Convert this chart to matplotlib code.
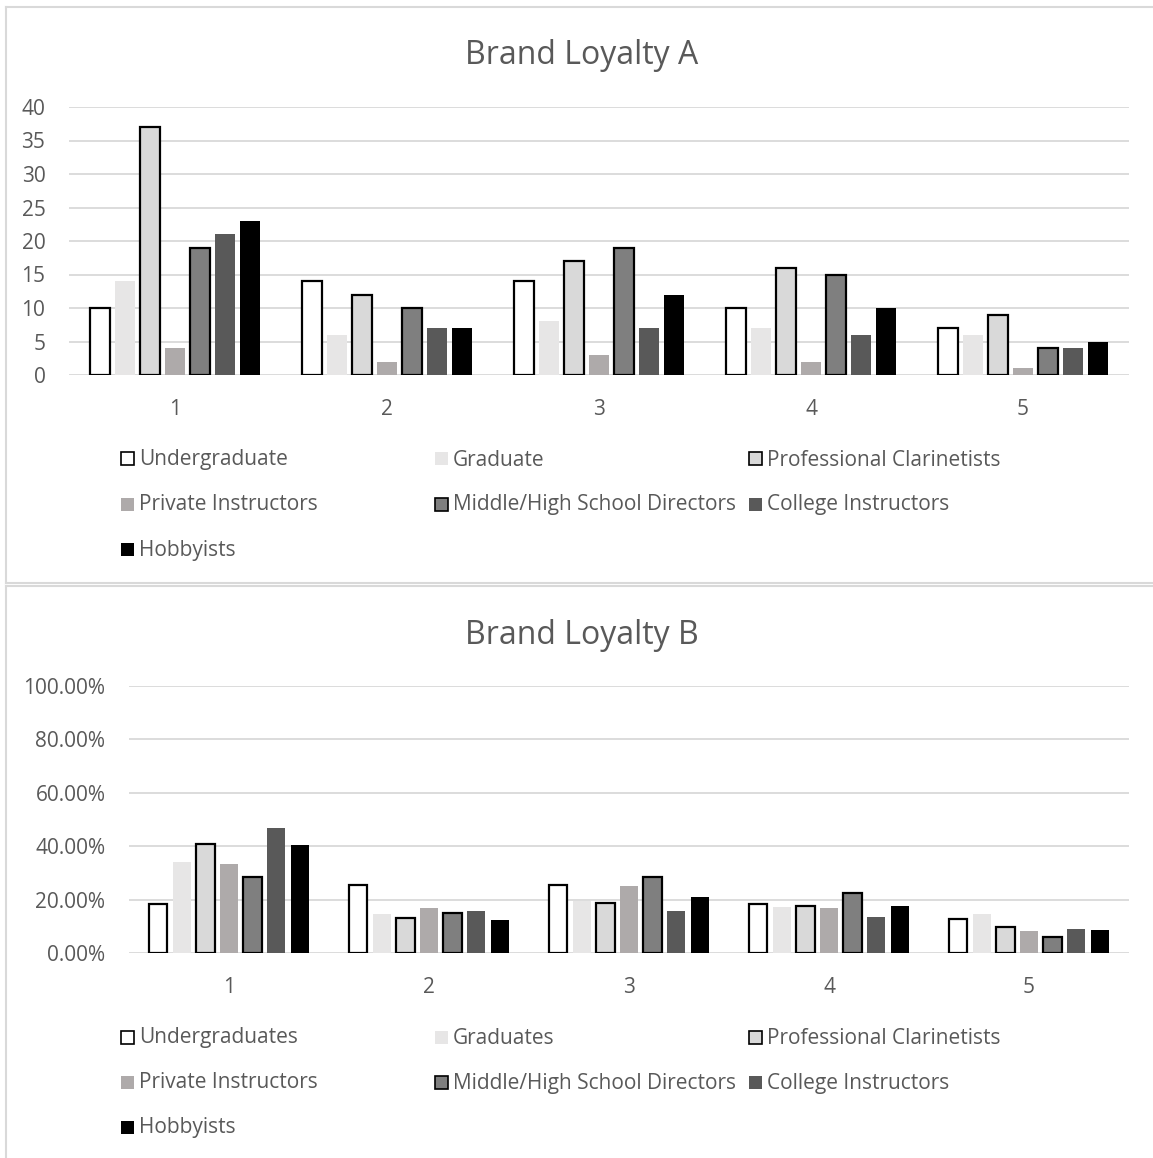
import numpy as np
import matplotlib.pyplot as plt
from matplotlib.patches import Rectangle
from matplotlib.lines import Line2D
from matplotlib.ticker import PercentFormatter, MultipleLocator

plt.rcParams['font.family'] = ['Open Sans', 'DejaVu Sans']

W, H = 1153, 1158
TXT = '#595959'
GRID = '#D9D9D9'

categories = ['1', '2', '3', '4', '5']

labels_a = ['Undergraduate', 'Graduate', 'Professional Clarinetists',
            'Private Instructors', 'Middle/High School Directors',
            'College Instructors', 'Hobbyists']
labels_b = ['Undergraduates', 'Graduates', 'Professional Clarinetists',
            'Private Instructors', 'Middle/High School Directors',
            'College Instructors', 'Hobbyists']

# counts per loyalty rating
undergrad_a = [10, 14, 14, 10, 7]
graduate_a = [14, 6, 8, 7, 6]
professional_a = [37, 12, 17, 16, 9]
private_a = [4, 2, 3, 2, 1]
directors_a = [19, 10, 19, 15, 4]
college_a = [21, 7, 7, 6, 4]
hobbyists_a = [23, 7, 12, 10, 5]

# share of each group per rating
undergrad_b = [0.1818, 0.2545, 0.2545, 0.1818, 0.1273]
graduate_b = [0.3415, 0.1463, 0.1951, 0.1707, 0.1463]
professional_b = [0.4066, 0.1319, 0.1868, 0.1758, 0.0989]
private_b = [0.3333, 0.1667, 0.2500, 0.1667, 0.0833]
directors_b = [0.2836, 0.1493, 0.2836, 0.2239, 0.0597]
college_b = [0.4667, 0.1556, 0.1556, 0.1333, 0.0889]
hobbyists_b = [0.4035, 0.1228, 0.2105, 0.1754, 0.0877]

series_a = [undergrad_a, graduate_a, professional_a, private_a,
            directors_a, college_a, hobbyists_a]
series_b = [undergrad_b, graduate_b, professional_b, private_b,
            directors_b, college_b, hobbyists_b]

fills = ['#FFFFFF', '#E7E6E6', '#D9D9D9', '#AEAAAA', '#7F7F7F', '#595959', '#000000']
outlined = [True, False, True, False, True, False, False]

FS = 15


def px(x0, y0, w, h):
    # pixel box (top-left origin) -> figure fraction
    return [x0 / W, 1 - (y0 + h) / H, w / W, h / H]


def bars(ax, series):
    x = np.arange(len(categories))
    step, width = 0.118, 0.092
    for i, vals in enumerate(series):
        off = (i - 3) * step
        ax.bar(x + off, vals, width, color=fills[i],
               edgecolor='black' if outlined[i] else 'none',
               linewidth=1.6 if outlined[i] else 0, zorder=3)
    ax.set_xlim(-0.5, len(categories) - 0.5)
    ax.set_xticks(x)
    ax.set_xticklabels(categories)
    ax.grid(axis='y', color=GRID, linewidth=1.3)
    ax.set_axisbelow(True)
    for s in ax.spines.values():
        s.set_visible(False)
    ax.tick_params(length=0, labelsize=FS, colors=TXT)
    ax.tick_params(axis='y', pad=17)
    ax.tick_params(axis='x', pad=17)


def legend(fig, labels, y_rows):
    cols = [121, 435, 749]
    for i, lab in enumerate(labels):
        cx = cols[i % 3]
        cy = y_rows[i // 3]
        sq = 13
        fig.add_artist(Rectangle((cx / W, 1 - (cy + sq / 2) / H), sq / W, sq / H,
                                 transform=fig.transFigure, facecolor=fills[i],
                                 edgecolor='black' if outlined[i] else 'none',
                                 linewidth=1.2))
        fig.text((cx + 18) / W, 1 - (cy + 1) / H, lab, fontsize=FS, color=TXT,
                 ha='left', va='center')


def hline(fig, x0, x1, y):
    fig.add_artist(Line2D([x0 / W, x1 / W], [1 - y / H, 1 - y / H],
                          transform=fig.transFigure, color=GRID, linewidth=1.5))


def vline(fig, x, y0, y1):
    fig.add_artist(Line2D([x / W, x / W], [1 - y0 / H, 1 - y1 / H],
                          transform=fig.transFigure, color=GRID, linewidth=1.5))


fig = plt.figure(figsize=(W / 100, H / 100), dpi=100)

# chart area borders
hline(fig, 6, W, 7)
vline(fig, 6, 7, 583)
hline(fig, 6, W, 583)
hline(fig, 6, W, 586)
vline(fig, 6, 586, H)

# Brand Loyalty A
ax1 = fig.add_axes(px(69, 107, 1060, 268))
bars(ax1, series_a)
ax1.set_ylim(0, 40)
ax1.yaxis.set_major_locator(MultipleLocator(5))
fig.text(582 / W, 1 - 56 / H, 'Brand Loyalty A', fontsize=23, color=TXT,
         ha='center', va='center')
legend(fig, labels_a, [459, 504, 549])

# Brand Loyalty B
ax2 = fig.add_axes(px(129, 686, 1000, 267))
bars(ax2, series_b)
ax2.set_ylim(0, 1)
ax2.yaxis.set_major_locator(MultipleLocator(0.2))
ax2.yaxis.set_major_formatter(PercentFormatter(1.0, decimals=2))
fig.text(582 / W, 1 - 635 / H, 'Brand Loyalty B', fontsize=23, color=TXT,
         ha='center', va='center')
legend(fig, labels_b, [1037, 1082, 1127])

fig.savefig('out.png', dpi=100)
